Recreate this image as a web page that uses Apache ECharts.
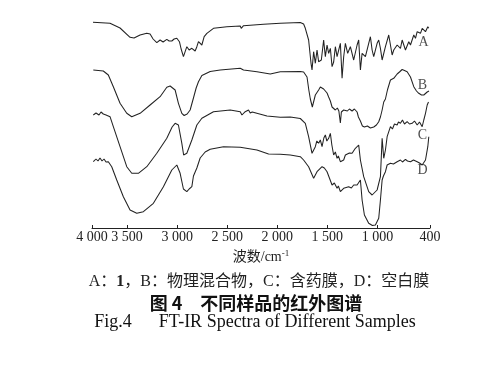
<!DOCTYPE html>
<html><head><meta charset="utf-8">
<script src="https://cdn.jsdelivr.net/npm/echarts@6/dist/echarts.min.js"></script>
<style>html,body{margin:0;padding:0;background:#fff}#c{width:501px;height:369px}</style>
</head><body><div id="c"></div>
<script>
// x: wavenumber (cm^-1), y: relative transmittance with vertical offsets (arbitrary units)
const tickValues = [3850, 3500, 3000, 2500, 2000, 1500, 1000, 475];
const tickLabels = ["4 000", "3 500", "3 000", "2 500", "2 000", "1 500", "1 000", "400"];
const seriesNames = ["A", "B", "C", "D"];

const spectrumA = [[3840,205.7],[3670,204.7],[3570,200],[3470,190.7],[3430,190],[3370,193],[3303,194.7],[3270,194],[3240,189],[3203,185.3],[3170,188],[3140,186],[3103,188.7],[3080,187],[3053,187],[3030,189],[3003,189.7],[2977,186.3],[2960,179],[2937,171.3],[2903,181.3],[2880,178],[2853,179.7],[2820,177],[2803,181.3],[2787,186.3],[2770,185],[2753,183],[2730,191.3],[2703,194.7],[2637,199.7],[2503,201.3],[2370,202],[2360,199.7],[2337,202.3],[2137,203.7],[1970,204.7],[1770,205.5],[1737,204],[1720,199.7],[1687,188],[1663,164.7],[1653,158],[1637,176.3],[1620,164.7],[1603,178],[1587,166.3],[1560,168],[1537,188],[1520,171.3],[1503,183],[1487,174.7],[1470,179.7],[1453,161.3],[1437,166],[1420,181.3],[1403,171.3],[1370,184.7],[1353,149.7],[1337,171.3],[1320,184.7],[1297,174.7],[1270,181.3],[1237,168],[1203,183],[1187,188],[1170,158],[1153,174.7],[1120,171.3],[1087,184.7],[1070,191.3],[1053,178],[1037,171.3],[1003,184.7],[987,188],[970,179.7],[953,168],[920,181.3],[887,193],[870,191.3],[853,173],[837,178],[803,183],[770,179.7],[753,188],[720,178],[687,186.3],[670,183],[637,193],[620,189.7],[603,196.3],[570,194.7],[553,199.7],[520,196.3],[497,201.3],[487,199.7]];

const spectrumB = [[3837,158],[3737,157],[3687,153],[3637,141.3],[3570,124.7],[3503,114.7],[3453,111.3],[3370,114.7],[3270,123],[3170,131.3],[3103,140.7],[3070,142],[3020,138],[2987,124.7],[2953,114.7],[2930,112.5],[2900,114],[2870,118],[2837,130],[2810,140],[2787,146.3],[2753,152.5],[2670,156.5],[2570,158],[2370,159.7],[2337,158],[2203,156.3],[2070,154],[1970,156.3],[1770,156.5],[1737,156],[1703,151],[1685,138],[1670,129],[1650,121],[1620,133],[1587,138],[1570,141],[1553,143],[1537,139],[1520,140],[1503,135],[1487,131],[1470,127],[1453,121],[1437,121.3],[1420,118],[1400,120],[1385,117],[1370,105],[1360,116],[1337,118],[1320,120],[1300,117],[1280,119],[1253,117],[1230,119],[1203,116],[1190,111],[1170,107],[1150,102],[1130,101],[1100,102],[1070,100],[1037,101],[1010,103],[987,106.3],[970,111],[953,118],[937,126],[920,129],[900,138],[870,148],[837,149.7],[803,154],[780,156],[753,158.5],[730,157.5],[703,156.3],[670,151],[637,141.3],[610,137],[587,134.7],[560,133],[537,133],[503,136],[485,137]];

const spectrumC = [[3837,113],[3810,115],[3780,113],[3760,116],[3737,114],[3710,113],[3670,111.3],[3637,101.3],[3570,81.3],[3503,61.3],[3453,54.7],[3387,54.7],[3303,61.3],[3203,74.7],[3103,89.7],[3050,101],[3020,104.7],[2987,103],[2953,84.7],[2935,73],[2903,74.7],[2853,88],[2803,103],[2753,109.7],[2637,116.3],[2470,118],[2370,116.3],[2353,113],[2320,116.3],[2287,118],[2270,115],[2250,116],[2103,112],[1970,110.7],[1870,111],[1770,109.5],[1720,104.7],[1687,91.3],[1653,74.7],[1620,81.3],[1605,87],[1587,84.7],[1570,88],[1553,81.3],[1535,90],[1520,93],[1505,87],[1487,89.7],[1470,94.7],[1455,83],[1437,73],[1420,76],[1403,69.7],[1390,72],[1370,66.3],[1337,68],[1320,73],[1303,71.3],[1280,75],[1253,74.7],[1220,79.7],[1187,83],[1170,68],[1137,51.3],[1087,36.3],[1053,33],[1003,38],[970,51.3],[953,89.7],[937,69.7],[920,78],[903,91.3],[870,101.3],[850,99],[830,104],[803,103],[790,106],[770,104.7],[750,108],[730,104],[703,106.3],[680,104],[653,104.7],[630,107],[603,103],[580,106],[553,101.3],[537,108],[520,114.7],[503,123],[490,126]];

const spectrumD = [[3837,66.3],[3810,69],[3790,67],[3770,70],[3750,67],[3730,69],[3710,66],[3687,66.3],[3653,61.3],[3603,48],[3537,31.3],[3470,18],[3403,14.7],[3337,16.3],[3237,24.7],[3137,41.3],[3053,58],[3003,63],[2970,54.7],[2937,39],[2903,36.3],[2880,39],[2853,41.3],[2837,52],[2803,60],[2770,70],[2720,76],[2670,78.7],[2537,81.3],[2370,80.7],[2203,78],[2087,74],[1970,73.7],[1870,73],[1770,71.3],[1737,68],[1687,61.3],[1637,49.7],[1603,56.3],[1553,61.3],[1530,60],[1503,56.3],[1453,43],[1430,45],[1403,39.7],[1390,42],[1370,36.3],[1337,39.7],[1320,39],[1287,41.3],[1260,40],[1237,43],[1203,43],[1170,48],[1153,28],[1130,13],[1087,4.7],[1050,2.5],[1020,3],[987,9.7],[970,28],[953,48],[940,52],[920,56.3],[903,63],[870,64.7],[840,64],[803,66.3],[770,68],[750,66],[720,68.7],[700,67],[670,66.3],[640,68],[603,66.3],[580,65],[553,63],[520,68],[497,81.3],[487,91.3]];

const labelPoints = [[540,186,"A"],[550,143,"B"],[550,93,"C"],[550,58,"D"]];

const captionNote = "A：{b|1}，B：物理混合物，C：含药膜，D：空白膜";
const captionCn = "图 4\u2003不同样品的红外图谱";
const captionEn = "Fig.4\u2003\u2002FT-IR Spectra of Different Samples";
const axisTitle = "波数/cm{sup|-1}";

const chart = echarts.init(document.getElementById('c'), null, {renderer: 'canvas'});
const lineColor = '#222';
const spectra = [spectrumA, spectrumB, spectrumC, spectrumD];
const series = spectra.map((d, i) => ({
  name: seriesNames[i], type: 'line', data: d, showSymbol: false, symbol: 'none',
  lineStyle: {color: lineColor, width: 1.05}, animation: false, silent: true
}));
series.push({
  type: 'scatter', data: labelPoints, symbolSize: 8, itemStyle: {color: 'rgba(0,0,0,0)'},
  label: {show: true, position: 'inside', formatter: p => p.data[2],
    fontFamily: 'Liberation Serif', fontSize: 14, color: '#222'},
  animation: false, silent: true
});

chart.setOption({
  backgroundColor: '#fff',
  animation: false,
  grid: {left: 92, right: 71, top: 10, bottom: 141},
  xAxis: {
    type: 'value', inverse: true, min: 475, max: 3850,
    axisLine: {lineStyle: {color: '#222', width: 1}},
    axisTick: {show: true, inside: true, length: 3, customValues: tickValues, lineStyle: {color: '#222'}},
    axisLabel: {customValues: tickValues, margin: 2, color: '#222', fontFamily: 'Liberation Serif', fontSize: 14,
      formatter: v => { const i = tickValues.indexOf(v); return i >= 0 ? tickLabels[i] : ''; }},
    splitLine: {show: false},
    name: axisTitle, nameLocation: 'middle', nameGap: 11,
    nameTextStyle: {color: '#222', fontFamily: 'Liberation Serif, Noto Sans CJK SC', fontSize: 14,
      rich: {sup: {fontSize: 9, fontFamily: 'Liberation Serif', color: '#222', padding: [0, 0, 8, 0]}}}
  },
  yAxis: {type: 'value', min: 0, max: 218, show: false},
  title: [
    {text: captionNote, left: 254, textAlign: 'center', top: 269,
      textStyle: {fontFamily: 'Liberation Serif, Noto Sans CJK SC', fontSize: 16, fontWeight: 'normal', color: '#222',
        rich: {b: {fontFamily: 'Liberation Serif', fontSize: 16, fontWeight: 'bold', color: '#222'}}}},
    {text: captionCn, left: 251, textAlign: 'center', top: 289,
      textStyle: {fontFamily: 'Noto Sans CJK SC', fontSize: 18, fontWeight: 'bold', color: '#111'}},
    {text: captionEn, left: 250, textAlign: 'center', top: 308,
      textStyle: {fontFamily: 'Liberation Serif', fontSize: 18, fontWeight: 'normal', color: '#111'}}
  ],
  series: series
});
</script></body></html>
